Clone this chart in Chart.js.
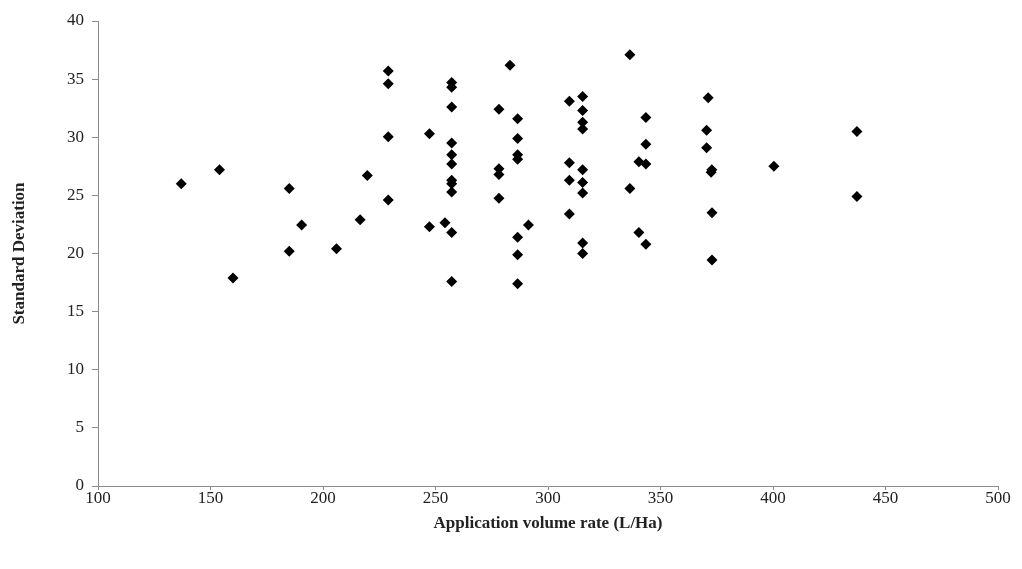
<!DOCTYPE html>
<html>
<head>
<meta charset="utf-8">
<script src="https://cdn.jsdelivr.net/npm/chart.js@4/dist/chart.umd.min.js"></script>
<style>
  html, body { margin: 0; padding: 0; background: #fff; }
  #wrap { width: 1022px; height: 569px; position: relative; }
</style>
</head>
<body>
<div id="wrap"><canvas id="chart"></canvas></div>
<script>
// application volume rate (L/Ha) and standard deviation
const volumeRate = [
    137, 154, 160, 185, 185, 190.5, 206, 216.5, 219.7,
    229, 229, 229, 229,
    247.3, 247.3, 254.2,
    257.2, 257.2, 257.2, 257.2, 257.2, 257.2, 257.2, 257.2, 257.2, 257.2, 257.2,
    278.2, 278.2, 278.2, 278.2, 283.1,
    286.5, 286.5, 286.5, 286.5, 286.5, 286.5, 286.5, 291.3,
    309.5, 309.5, 309.5, 309.5,
    315.4, 315.4, 315.4, 315.4, 315.4, 315.4, 315.4, 315.4, 315.4,
    336.4, 336.4, 340.4, 340.4, 343.5, 343.5, 343.5, 343.5,
    371.2, 370.5, 370.5, 372.8, 372.5, 372.9, 372.9,
    400.4, 437.3, 437.3
];
const stdDev = [
    26.0, 27.2, 17.9, 25.6, 20.2, 22.45, 20.4, 22.9, 26.7,
    35.7, 34.6, 30.05, 24.6,
    30.3, 22.3, 22.65,
    34.7, 34.3, 32.6, 29.5, 28.5, 27.7, 26.3, 26.0, 25.3, 21.8, 17.6,
    32.4, 27.3, 26.8, 24.75, 36.2,
    31.6, 29.9, 28.5, 28.1, 21.4, 19.9, 17.4, 22.45,
    33.1, 27.8, 26.3, 23.4,
    33.5, 32.3, 31.3, 30.7, 27.2, 26.1, 25.2, 20.9, 20.0,
    37.1, 25.6, 27.9, 21.8, 31.7, 29.4, 27.7, 20.8,
    33.4, 30.6, 29.1, 27.2, 27.0, 23.5, 19.45,
    27.5, 30.5, 24.9
];
const xTicks = [100, 150, 200, 250, 300, 350, 400, 450, 500];
const yTicks = [0, 5, 10, 15, 20, 25, 30, 35, 40];

const points = volumeRate.map((x, i) => ({ x: x, y: stdDev[i] }));

const axisGray = "#8c8c8c";
const tickFont = { family: "'Liberation Serif', 'Times New Roman', serif", size: 17 };
const titleFont = { family: "'Liberation Serif', 'Times New Roman', serif", size: 17, weight: "bold" };

new Chart(document.getElementById("chart"), {
    type: "scatter",
    data: {
        datasets: [{
            label: "Standard Deviation",
            data: points,
            pointStyle: "rectRot",
            pointRadius: 5.5,
            pointHoverRadius: 5.5,
            backgroundColor: "#000",
            borderColor: "#000",
            borderWidth: 0
        }]
    },
    options: {
        responsive: true,
        maintainAspectRatio: false,
        animation: false,
        layout: { padding: { left: 0, right: 24, top: 21, bottom: 0 } },
        plugins: {
            legend: { display: false },
            tooltip: { enabled: false }
        },
        scales: {
            x: {
                type: "linear",
                min: 100,
                max: 500,
                afterBuildTicks: s => { s.ticks = xTicks.map(v => ({ value: v })); },
                afterFit: s => { s.height = 83; },
                border: { color: axisGray, width: 1 },
                grid: { drawOnChartArea: false, color: axisGray, tickLength: 4 },
                ticks: { color: "#222", font: tickFont, padding: -2, maxRotation: 0 },
                title: {
                    display: true,
                    text: "Application volume rate (L/Ha)",
                    color: "#222",
                    font: titleFont,
                    padding: { top: 0, bottom: 35 }
                }
            },
            y: {
                min: 0,
                max: 40,
                afterBuildTicks: s => { s.ticks = yTicks.map(v => ({ value: v })); },
                afterFit: s => { s.width = 98; },
                border: { color: axisGray, width: 1 },
                grid: { drawOnChartArea: false, color: axisGray, tickLength: 6 },
                ticks: { color: "#222", font: tickFont, padding: 8 },
                title: {
                    display: true,
                    text: "Standard Deviation",
                    color: "#222",
                    font: titleFont,
                    padding: { top: 9, bottom: 0 }
                }
            }
        }
    }
});
</script>
</body>
</html>
